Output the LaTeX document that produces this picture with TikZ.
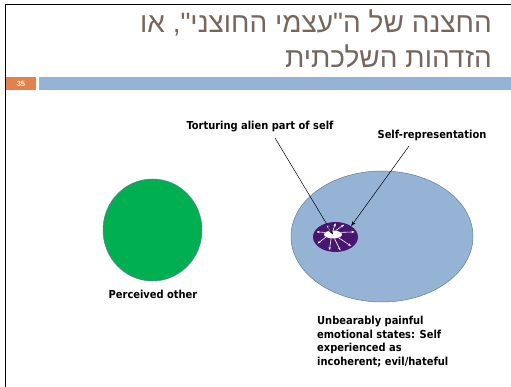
\documentclass[tikz,border=0pt]{standalone}
\usepackage{fontspec}
\usetikzlibrary{shapes.geometric,arrows.meta,calc}
\TeXXeTstate=1
\setmainfont{Liberation Sans}
\newfontfamily\hebfont[Script=Hebrew]{Liberation Sans}
\newfontfamily\labfont{DejaVu Sans Condensed}
\definecolor{titlecol}{RGB}{118,102,92}
\definecolor{barblue}{RGB}{149,179,215}
\definecolor{numorange}{RGB}{226,130,72}
\definecolor{othergreen}{RGB}{0,176,80}
\definecolor{selfblue}{RGB}{149,179,212}
\definecolor{selfedge}{RGB}{100,125,150}
\definecolor{ringpurple}{RGB}{72,22,112}
\tikzset{
  lab/.style={font=\labfont\bfseries\fontsize{11}{13.7}\selectfont, inner sep=0pt},
  ptr/.style={draw=black, line width=0.5pt, -{Stealth[length=5pt,width=3.5pt]}},
  ray/.style={draw=white, line width=0.6pt, -{Stealth[length=3pt,width=2.4pt]}},
  ttl/.style={font=\hebfont\fontsize{28}{34}\selectfont, text=titlecol, anchor=base east, inner sep=0pt}
}
\begin{document}
\begin{tikzpicture}[x=1pt,y=-1pt]
\useasboundingbox (0,0) rectangle (511,387);
\fill[white] (0,0) rectangle (511,387);
% frame
\draw[line width=1.6pt] (5.5,387) -- (5.5,4.5) -- (511,4.5);
% title
\node[ttl] (t1) at (492,33) {\beginR החצנה של ה"עצמי החוצני", או\endR};
\node[ttl] (t2) at (492,68) {\beginR הזדהות השלכתית\endR};
% bars
\node[fill=numorange, minimum width=30pt, minimum height=13pt, inner sep=0pt, text=white, font=\bfseries\fontsize{7.5}{8}\selectfont] (num) at (21,83.5) {35};
\fill[barblue] (39,77) rectangle (511,90);
% other
\node[ellipse, fill=othergreen, draw=selfedge, line width=0.5pt, minimum width=99pt, minimum height=102pt, inner sep=0pt] (other) at (152.5,230) {};
\node[lab] (otherlab) at (153,294) {Perceived other};
% self
\node[ellipse, fill=selfblue, draw=selfedge, line width=0.5pt, minimum width=182pt, minimum height=131pt, inner sep=0pt] (self) at (382,236.5) {};
\node[ellipse, fill=ringpurple, minimum width=45pt, minimum height=30pt, inner sep=0pt] (ring) at (335.5,237) {};
\node[ellipse, fill=white, minimum width=18pt, minimum height=8pt, inner sep=0pt] (inner) at (333,234.5) {};
\foreach \a in {15,55,90,125,165,200,245,290,330}{
  \draw[ray] (inner.\a) -- ($(ring.center)!0.9!(ring.\a)$);
}
% labels
\node[lab] (tort) at (260,127) {Torturing alien part of self};
\node[lab] (selfrep) at (432,135) {Self-representation};
\coordinate (tortstart) at (275,138);
\coordinate (repstart) at (409,146);
\draw[ptr] (tortstart) -- (inner.center);
\draw[ptr] (repstart) -- (ring.35);
\node[lab, anchor=north west, align=left] (desc) at (317,316) {Unbearably painful\\emotional states: Self\\experienced as\\incoherent; evil/hateful};
\end{tikzpicture}
\end{document}
